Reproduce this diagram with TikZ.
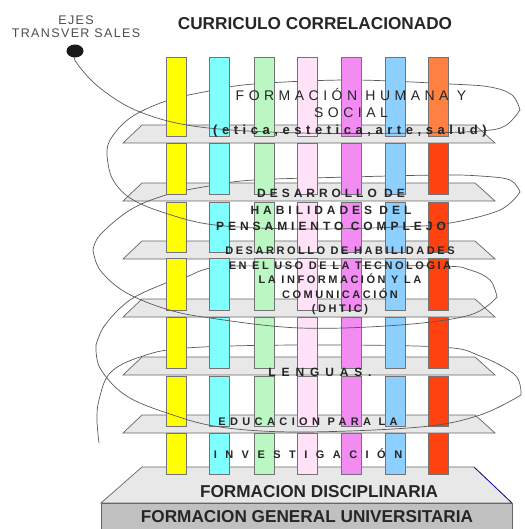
\documentclass[tikz,border=0pt]{standalone}
\usepackage{fontspec}
\setmainfont{Liberation Sans}
\definecolor{cYellow}{HTML}{FFFF00}
\definecolor{cCyan}{HTML}{80FFFF}
\definecolor{cGreen}{HTML}{BBF7C2}
\definecolor{cPink}{HTML}{FFE1F8}
\definecolor{cMagenta}{HTML}{F28CF2}
\definecolor{cBlue}{HTML}{8DCFFF}
\definecolor{cOrange}{HTML}{FF8040}
\definecolor{cRed}{HTML}{FF4210}
\definecolor{clGray}{HTML}{E8E8E8}
\definecolor{cGray}{HTML}{C0C0C0}
\definecolor{cLine}{gray}{0.35}
\tikzset{
	pillar/.style={draw=black!55, line width=0.8pt},
	platform/.style={draw=black!60, fill=clGray, line width=0.7pt},
	spiral/.style={draw=cLine, line width=0.7pt},
	label/.style={inner sep=0pt, align=center, text=black!85},
}

\begin{document}
\begin{tikzpicture}[x=1pt, y=-1pt]
		\useasboundingbox (0,0) rectangle (524,529);
		%platforms
		\foreach \t in {125,183,241,299,357,415}
		{
			\draw [platform] (142,\t) -- (475,\t) -- (495,\t+18) -- (123,\t+18) -- cycle;
		}
		%base
		\draw [platform] (142,467) -- (474,467) -- (512,503) -- (101,503) -- cycle;
		\draw [blue!70!black, line width=0.6pt] (474,467) -- (512,503);
		\draw [draw=black!60, fill=cGray, line width=0.7pt] (101,503) rectangle (512,531);
		
		%back of the spiral
		\draw [spiral] plot[smooth, tension=0.6] coordinates {(520,110) (512,95) (490,87) (450,84) (350,80) (254,84) (209,91) (166,101) (130,118) (110,140) (107,155)};
		\draw [spiral] plot[smooth, tension=0.6] coordinates {(520,192) (510,180) (480,176) (440,175) (350,177) (254,180) (209,186) (166,195) (130,210) (100,235) (93,250)};
		\draw [spiral] plot[smooth, tension=0.6] coordinates {(497,297) (490,280) (470,270) (440,266) (300,266) (218,267) (186,277) (166,283) (130,300) (105,325) (96,345)};
		\draw [spiral] plot[smooth, tension=0.6] coordinates {(521,395) (515,375) (480,356) (440,347) (300,345) (186,348) (140,357) (110,373) (99,400) (97,420) (99,443)};
		
		%pillars
		\foreach \x/\c in {166/cYellow,209/cCyan,254/cGreen,297/cPink,341/cMagenta,385/cBlue,428/cRed}
		{
			\foreach \a/\b in {57/136,143/194,202/252,258/310,317/368,376/426,433/474}
			{
				\draw [pillar, fill=\c] (\x,\a) rectangle (\x+20,\b);
			}
		}
		\draw [pillar, fill=cOrange] (428,57) rectangle (448,136);
		
		%front of the spiral
		\coordinate (eje) at (75,51);
		\draw [spiral] plot[smooth, tension=0.6] coordinates {(eje) (76,62) (100,88) (140,112) (200,127) (300,133) (420,133) (480,131) (505,126) (520,110)};
		\draw [spiral] plot[smooth, tension=0.6] coordinates {(107,155) (112,178) (130,198) (165,213) (215,225) (300,229) (400,227) (450,223) (500,210) (520,192)};
		\draw [spiral] plot[smooth, tension=0.6] coordinates {(93,250) (100,270) (125,292) (166,309) (210,318) (300,328) (400,325) (470,315) (497,297)};
		\draw [spiral] plot[smooth, tension=0.6] coordinates {(96,345) (100,368) (125,395) (167,413) (220,427) (300,432) (420,427) (480,415) (521,395)};
		\fill [black!90] (eje) ellipse (8.5 and 6.5);
		
		%texts
		\node [label, font=\bfseries\fontsize{17.2}{20}\selectfont] (title) at (315,24) {CURRICULO CORRELACIONADO};
		\node [label, text=black!70, font=\fontsize{12.5}{13}\selectfont\addfontfeatures{LetterSpace=11}] (ejes) at (76,27) {EJES\\TRANSVER SALES};
		\node [label, font=\fontsize{14}{17}\selectfont\addfontfeatures{LetterSpace=32}] (humana) at (351,103) {FORMACIÓN HUMANA Y\\SOCIAL};
		\node [label, font=\bfseries\fontsize{13}{15}\selectfont\addfontfeatures{LetterSpace=35}] (etica) at (350,131) {(etica,estetica,arte,salud)};
		\node [label, font=\bfseries\fontsize{12}{16.5}\selectfont\addfontfeatures{LetterSpace=33}] (pensamiento) at (331,210) {DESARROLLO DE\\HABILIDADES DEL\\PENSAMIENTO COMPLEJO};
		\node [label, font=\bfseries\fontsize{11}{14.5}\selectfont\addfontfeatures{LetterSpace=23}] (dhtic) at (340,281) {DESARROLLO DE HABILIDADES\\EN EL USO DE LA TECNOLOGIA\\LA INFORMACIÓN Y LA\\COMUNICACIÓN\\(DHTIC)};
		\node [label, font=\bfseries\fontsize{12}{14}\selectfont\addfontfeatures{LetterSpace=49}] (lenguas) at (320,372) {LENGUAS.};
		\node [label, font=\bfseries\fontsize{11}{14}\selectfont\addfontfeatures{LetterSpace=40}] (educacion) at (308,422) {EDUCACION PARA LA};
		\node [label, font=\bfseries\fontsize{11}{14}\selectfont\addfontfeatures{LetterSpace=77}] (investigacion) at (308,454) {INVESTIGACIÓN};
		\node [label, font=\bfseries\fontsize{17.2}{20}\selectfont] (disciplinaria) at (319,492) {FORMACION DISCIPLINARIA};
		\node [label, font=\bfseries\fontsize{17.2}{20}\selectfont] (general) at (307,517) {FORMACION GENERAL UNIVERSITARIA};
		
\end{tikzpicture}
\end{document}
